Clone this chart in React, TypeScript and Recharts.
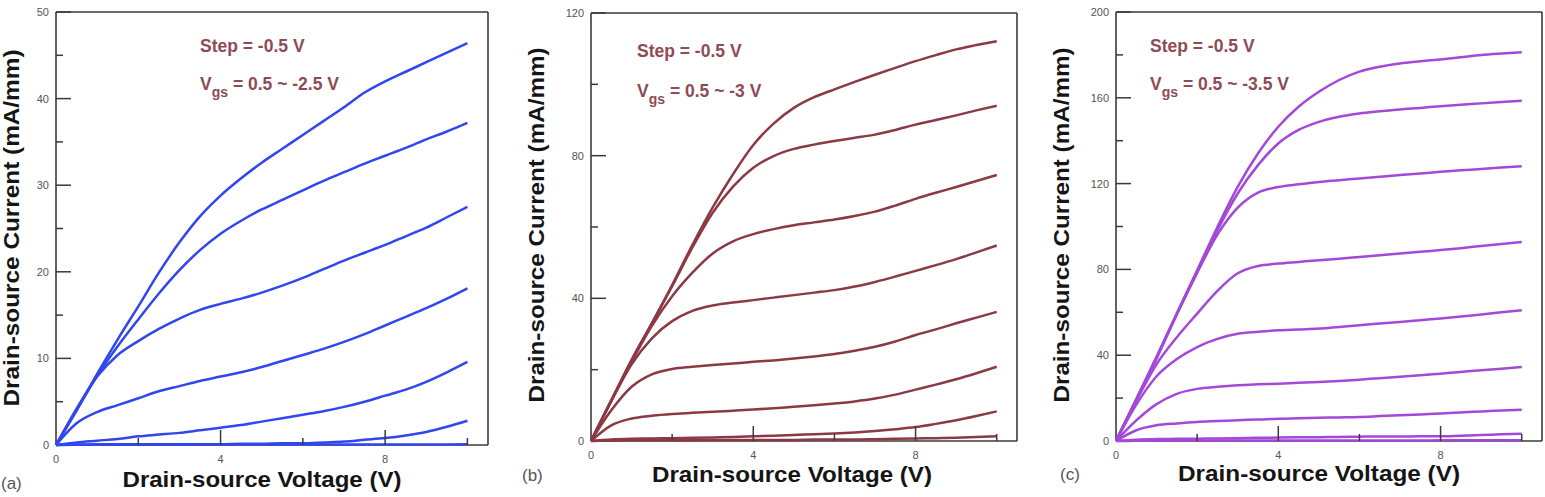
import React from 'react';
import { LineChart, Line, XAxis, YAxis, ReferenceLine } from 'recharts';

// Drain-source voltage sample points (V)
const vds = [0, 0.5, 1, 1.5, 2, 2.5, 3, 3.5, 4, 4.5, 5, 5.5, 6, 6.5, 7, 7.5, 8, 8.5, 9, 9.5, 10];

// (a) Vgs = 0.5 ~ -2.5 V, step -0.5 V  (mA/mm)
const vgsA = ['0.5', '0', '-0.5', '-1', '-1.5', '-2', '-2.5'];
const idsA = [
  [0, 4.0, 8.2, 12.2, 16.0, 19.9, 23.4, 26.4, 28.8, 30.8, 32.6, 34.2, 35.8, 37.4, 39.0, 40.7, 42.0, 43.1, 44.2, 45.3, 46.4],
  [0, 4.0, 8.0, 11.4, 14.5, 17.5, 20.2, 22.5, 24.4, 25.9, 27.2, 28.3, 29.4, 30.5, 31.5, 32.5, 33.4, 34.3, 35.3, 36.2, 37.2],
  [0, 4.2, 7.9, 10.4, 12.0, 13.4, 14.6, 15.6, 16.3, 16.9, 17.6, 18.4, 19.3, 20.3, 21.3, 22.2, 23.1, 24.1, 25.1, 26.3, 27.5],
  [0, 2.5, 3.8, 4.6, 5.4, 6.2, 6.8, 7.4, 7.9, 8.4, 9.0, 9.7, 10.4, 11.1, 11.9, 12.8, 13.8, 14.8, 15.8, 16.9, 18.1],
  [0, 0.3, 0.5, 0.7, 1.0, 1.2, 1.4, 1.7, 2.0, 2.3, 2.7, 3.1, 3.5, 3.9, 4.4, 5.0, 5.7, 6.4, 7.3, 8.4, 9.6],
  [0, 0.05, 0.1, 0.1, 0.1, 0.1, 0.1, 0.1, 0.1, 0.15, 0.15, 0.2, 0.2, 0.3, 0.4, 0.6, 0.8, 1.1, 1.5, 2.1, 2.8],
  [0, 0.02, 0.03, 0.03, 0.04, 0.04, 0.04, 0.05, 0.05, 0.05, 0.05, 0.05, 0.05, 0.05, 0.05, 0.05, 0.06, 0.06, 0.06, 0.07, 0.08],
];

// (b) Vgs = 0.5 ~ -3 V, step -0.5 V  (mA/mm)
const vgsB = ['0.5', '0', '-0.5', '-1', '-1.5', '-2', '-2.5', '-3'];
const idsB = [
  [0, 11.4, 22.7, 33.0, 43.7, 55.0, 65.5, 74.8, 83.0, 89.0, 93.4, 96.4, 98.6, 100.7, 102.7, 104.6, 106.5, 108.2, 109.8, 111.0, 112.1],
  [0, 11.4, 22.7, 33.0, 43.4, 54.3, 64.0, 71.3, 76.6, 79.9, 81.9, 83.1, 84.1, 85.0, 85.9, 87.2, 88.7, 90.0, 91.3, 92.7, 94.0],
  [0, 11.3, 22.2, 32.3, 40.6, 47.2, 52.6, 56.0, 58.0, 59.4, 60.5, 61.3, 62.1, 63.1, 64.3, 66.0, 67.9, 69.6, 71.2, 72.9, 74.6],
  [0, 11.2, 21.5, 28.8, 33.6, 36.5, 38.0, 38.8, 39.5, 40.2, 40.9, 41.6, 42.3, 43.3, 44.6, 46.1, 47.7, 49.3, 51.0, 52.9, 54.8],
  [0, 8.6, 15.2, 18.7, 20.2, 20.8, 21.3, 21.7, 22.2, 22.6, 23.1, 23.7, 24.4, 25.3, 26.4, 27.9, 29.7, 31.3, 33.0, 34.6, 36.2],
  [0, 4.4, 6.3, 7.1, 7.6, 7.9, 8.2, 8.5, 8.8, 9.2, 9.6, 10.0, 10.5, 11.1, 11.9, 13.0, 14.4, 15.8, 17.3, 19.0, 20.8],
  [0, 0.4, 0.6, 0.7, 0.8, 0.9, 1.0, 1.1, 1.3, 1.5, 1.7, 1.9, 2.1, 2.4, 2.8, 3.3, 3.9, 4.8, 5.8, 7.0, 8.3],
  [0, 0.1, 0.2, 0.2, 0.2, 0.2, 0.3, 0.3, 0.3, 0.3, 0.3, 0.4, 0.4, 0.4, 0.5, 0.6, 0.7, 0.8, 0.9, 1.1, 1.3],
];

// (c) Vgs = 0.5 ~ -3.5 V, step -0.5 V  (mA/mm)
const vgsC = ['0.5', '0', '-0.5', '-1', '-1.5', '-2', '-2.5', '-3', '-3.5'];
const idsC = [
  [0, 19.5, 39.2, 59.5, 79.6, 99.8, 118.5, 134.0, 146.5, 155.8, 162.8, 168.3, 172.2, 174.5, 176.0, 177.0, 177.9, 178.9, 179.9, 180.6, 181.2],
  [0, 19.5, 39.2, 59.3, 78.8, 98.3, 115.4, 128.6, 138.7, 145.0, 148.8, 151.2, 152.7, 153.7, 154.6, 155.3, 156.1, 156.8, 157.4, 158.0, 158.6],
  [0, 19.3, 38.4, 59.0, 78.4, 96.2, 108.8, 115.8, 118.4, 119.7, 120.8, 121.6, 122.4, 123.2, 124.0, 124.7, 125.5, 126.2, 126.8, 127.5, 128.1],
  [0, 18.8, 35.8, 48.4, 59.4, 70.0, 78.2, 81.6, 82.7, 83.5, 84.3, 85.0, 85.8, 86.6, 87.4, 88.2, 89.0, 89.9, 90.9, 91.8, 92.8],
  [0, 17.0, 30.2, 38.2, 43.8, 47.6, 50.0, 50.9, 51.6, 52.0, 52.4, 53.2, 54.0, 54.8, 55.5, 56.3, 57.1, 58.0, 59.0, 60.0, 61.0],
  [0, 9.6, 17.2, 22.0, 24.3, 25.3, 26.0, 26.4, 26.7, 27.1, 27.5, 28.0, 28.6, 29.3, 29.9, 30.6, 31.4, 32.2, 33.0, 33.7, 34.5],
  [0, 5.0, 7.3, 8.2, 8.9, 9.3, 9.7, 10.0, 10.4, 10.6, 10.8, 11.0, 11.2, 11.6, 12.0, 12.4, 12.8, 13.3, 13.8, 14.2, 14.6],
  [0, 0.6, 0.9, 1.0, 1.1, 1.2, 1.3, 1.5, 1.6, 1.7, 1.8, 1.9, 2.0, 2.1, 2.1, 2.2, 2.2, 2.5, 2.8, 3.1, 3.4],
  [0, 0.1, 0.2, 0.2, 0.2, 0.2, 0.2, 0.2, 0.2, 0.2, 0.2, 0.2, 0.2, 0.2, 0.2, 0.2, 0.3, 0.3, 0.3, 0.3, 0.3],
];

// Axis ticks
const xTicks = [0, 2, 4, 6, 8, 10];
const yTicksA = [0, 5, 10, 15, 20, 25, 30, 35, 40, 45, 50];
const yTicksB = [0, 20, 40, 60, 80, 100, 120];
const yTicksC = [0, 20, 40, 60, 80, 100, 120, 140, 160, 180, 200];

const FONT = '"Liberation Sans", Arial, Helvetica, sans-serif';
const FRAME = '#3a3a3a';
const NOTE = '#8e4b55';
const X_MAX = 10.5;

function XTick(props: any) {
  const { x, y, payload } = props;
  const v = payload.value;
  const major = v % 4 === 0;
  return (
    <g>
      {v !== 0 && (
        <line x1={x} x2={x} y1={y} y2={y - (major ? 15 : 7)} stroke={FRAME} strokeWidth={1.5} />
      )}
      {major && (
        <text x={x} y={y + 18} textAnchor="middle" fontSize={11} fontFamily={FONT} fill="#555">
          {v}
        </text>
      )}
    </g>
  );
}

function YTick(props: any) {
  const { x, y, payload, labelStep } = props;
  const v = payload.value;
  const major = v % labelStep === 0;
  return (
    <g>
      {v !== 0 && (
        <line x1={x} x2={x + (major ? 15 : 7)} y1={y} y2={y} stroke={FRAME} strokeWidth={1.5} />
      )}
      {major && (
        <text x={x - 7} y={y + 4} textAnchor="end" fontSize={11} fontFamily={FONT} fill="#555">
          {v}
        </text>
      )}
    </g>
  );
}

type PanelProps = {
  left: number;
  width: number;
  margin: { top: number; right: number; bottom: number; left: number };
  curves: number[][];
  names: string[];
  color: string;
  yMax: number;
  yTicks: number[];
  labelStep: number;
};

function Panel({ left, width, margin, curves, names, color, yMax, yTicks, labelStep }: PanelProps) {
  const rows = vds.map((v, i) => {
    const r: Record<string, number> = { vds: v };
    curves.forEach((c, k) => {
      r['c' + k] = c[i];
    });
    return r;
  });
  // axes reserve 1px each, taken out of the margins
  const m = { ...margin, left: margin.left - 1, bottom: margin.bottom - 1 };
  return (
    <div style={{ position: 'absolute', left, top: 0 }}>
      <LineChart width={width} height={497} data={rows} margin={m}>
        <XAxis
          type="number"
          dataKey="vds"
          domain={[0, X_MAX]}
          ticks={xTicks}
          interval={0}
          height={1}
          tickSize={0}
          tickMargin={0}
          tickLine={false}
          axisLine={false}
          tick={(p: any) => <XTick {...p} />}
        />
        <YAxis
          type="number"
          domain={[0, yMax]}
          ticks={yTicks}
          interval={0}
          width={1}
          tickSize={0}
          tickMargin={0}
          tickLine={false}
          axisLine={false}
          tick={(p: any) => <YTick {...p} labelStep={labelStep} />}
        />
        <ReferenceLine x={0} stroke={FRAME} strokeWidth={1.6} />
        <ReferenceLine y={0} stroke={FRAME} strokeWidth={1.6} />
        <ReferenceLine x={X_MAX} stroke={FRAME} strokeWidth={1.6} />
        <ReferenceLine y={yMax} stroke={FRAME} strokeWidth={1.6} />
        {curves.map((_, k) => (
          <Line
            key={k}
            name={'Vgs = ' + names[k] + ' V'}
            dataKey={'c' + k}
            type="monotone"
            stroke={color}
            strokeWidth={2.5}
            dot={false}
            isAnimationActive={false}
          />
        ))}
      </LineChart>
    </div>
  );
}

function Notes({ x, y1, y2, range }: { x: number; y1: number; y2: number; range: string }) {
  return (
    <g fontFamily={FONT} fontWeight="bold" fill={NOTE} fontSize={17.5}>
      <text x={x} y={y1}>Step = -0.5 V</text>
      <text x={x} y={y2}>
        V<tspan fontSize={14} dy={7}>gs</tspan>
        <tspan dy={-7}>{' = 0.5 ~ ' + range + ' V'}</tspan>
      </text>
    </g>
  );
}

function Titles({ yx, yc, yLen, xc, xb, xLen, xText }: any) {
  return (
    <g fontFamily={FONT} fontWeight="bold" fill="#151515" fontSize={22} style={{ whiteSpace: 'pre' }}>
      <text
        x={yx}
        y={yc}
        transform={`rotate(-90 ${yx} ${yc})`}
        textAnchor="middle"
        textLength={yLen}
        lengthAdjust="spacingAndGlyphs"
      >
        {'Drain-source Current  (mA/mm)'}
      </text>
      <text x={xc} y={xb} textAnchor="middle" textLength={xLen} lengthAdjust="spacingAndGlyphs">
        {xText}
      </text>
    </g>
  );
}

export default function App() {
  return (
    <div style={{ position: 'absolute', left: 0, top: 0, width: 1545, height: 497, background: '#fff', overflow: 'hidden' }}>
      <Panel
        left={0}
        width={520}
        margin={{ top: 12, right: 32, bottom: 52, left: 56 }}
        curves={idsA}
        names={vgsA}
        color="#3046ee"
        yMax={50}
        yTicks={yTicksA}
        labelStep={10}
      />
      <Panel
        left={520}
        width={520}
        margin={{ top: 13, right: 23, bottom: 56, left: 71 }}
        curves={idsB}
        names={vgsB}
        color="#8b3a45"
        yMax={120}
        yTicks={yTicksB}
        labelStep={40}
      />
      <Panel
        left={1040}
        width={505}
        margin={{ top: 12, right: 3, bottom: 56, left: 76 }}
        curves={idsC}
        names={vgsC}
        color="#a348d8"
        yMax={200}
        yTicks={yTicksC}
        labelStep={40}
      />
      <svg width={1545} height={497} style={{ position: 'absolute', left: 0, top: 0, pointerEvents: 'none' }}>
        <Titles yx={19} yc={228} yLen={357} xc={262} xb={487} xLen={279} xText="Drain-source Voltage (V)" />
        <Titles yx={544} yc={225} yLen={355} xc={792} xb={482} xLen={280} xText="Drain-source Voltage  (V)" />
        <Titles yx={1069} yc={225} yLen={355} xc={1319} xb={481} xLen={282} xText="Drain-source Voltage  (V)" />
        <g fontFamily={FONT} fontSize={17} fill="#555">
          <text x={1} y={489}>(a)</text>
          <text x={522} y={481}>(b)</text>
          <text x={1060} y={480}>(c)</text>
        </g>
        <Notes x={200} y1={52} y2={90} range="-2.5" />
        <Notes x={637} y1={57} y2={97} range="-3" />
        <Notes x={1150} y1={52} y2={90} range="-3.5" />
      </svg>
    </div>
  );
}
